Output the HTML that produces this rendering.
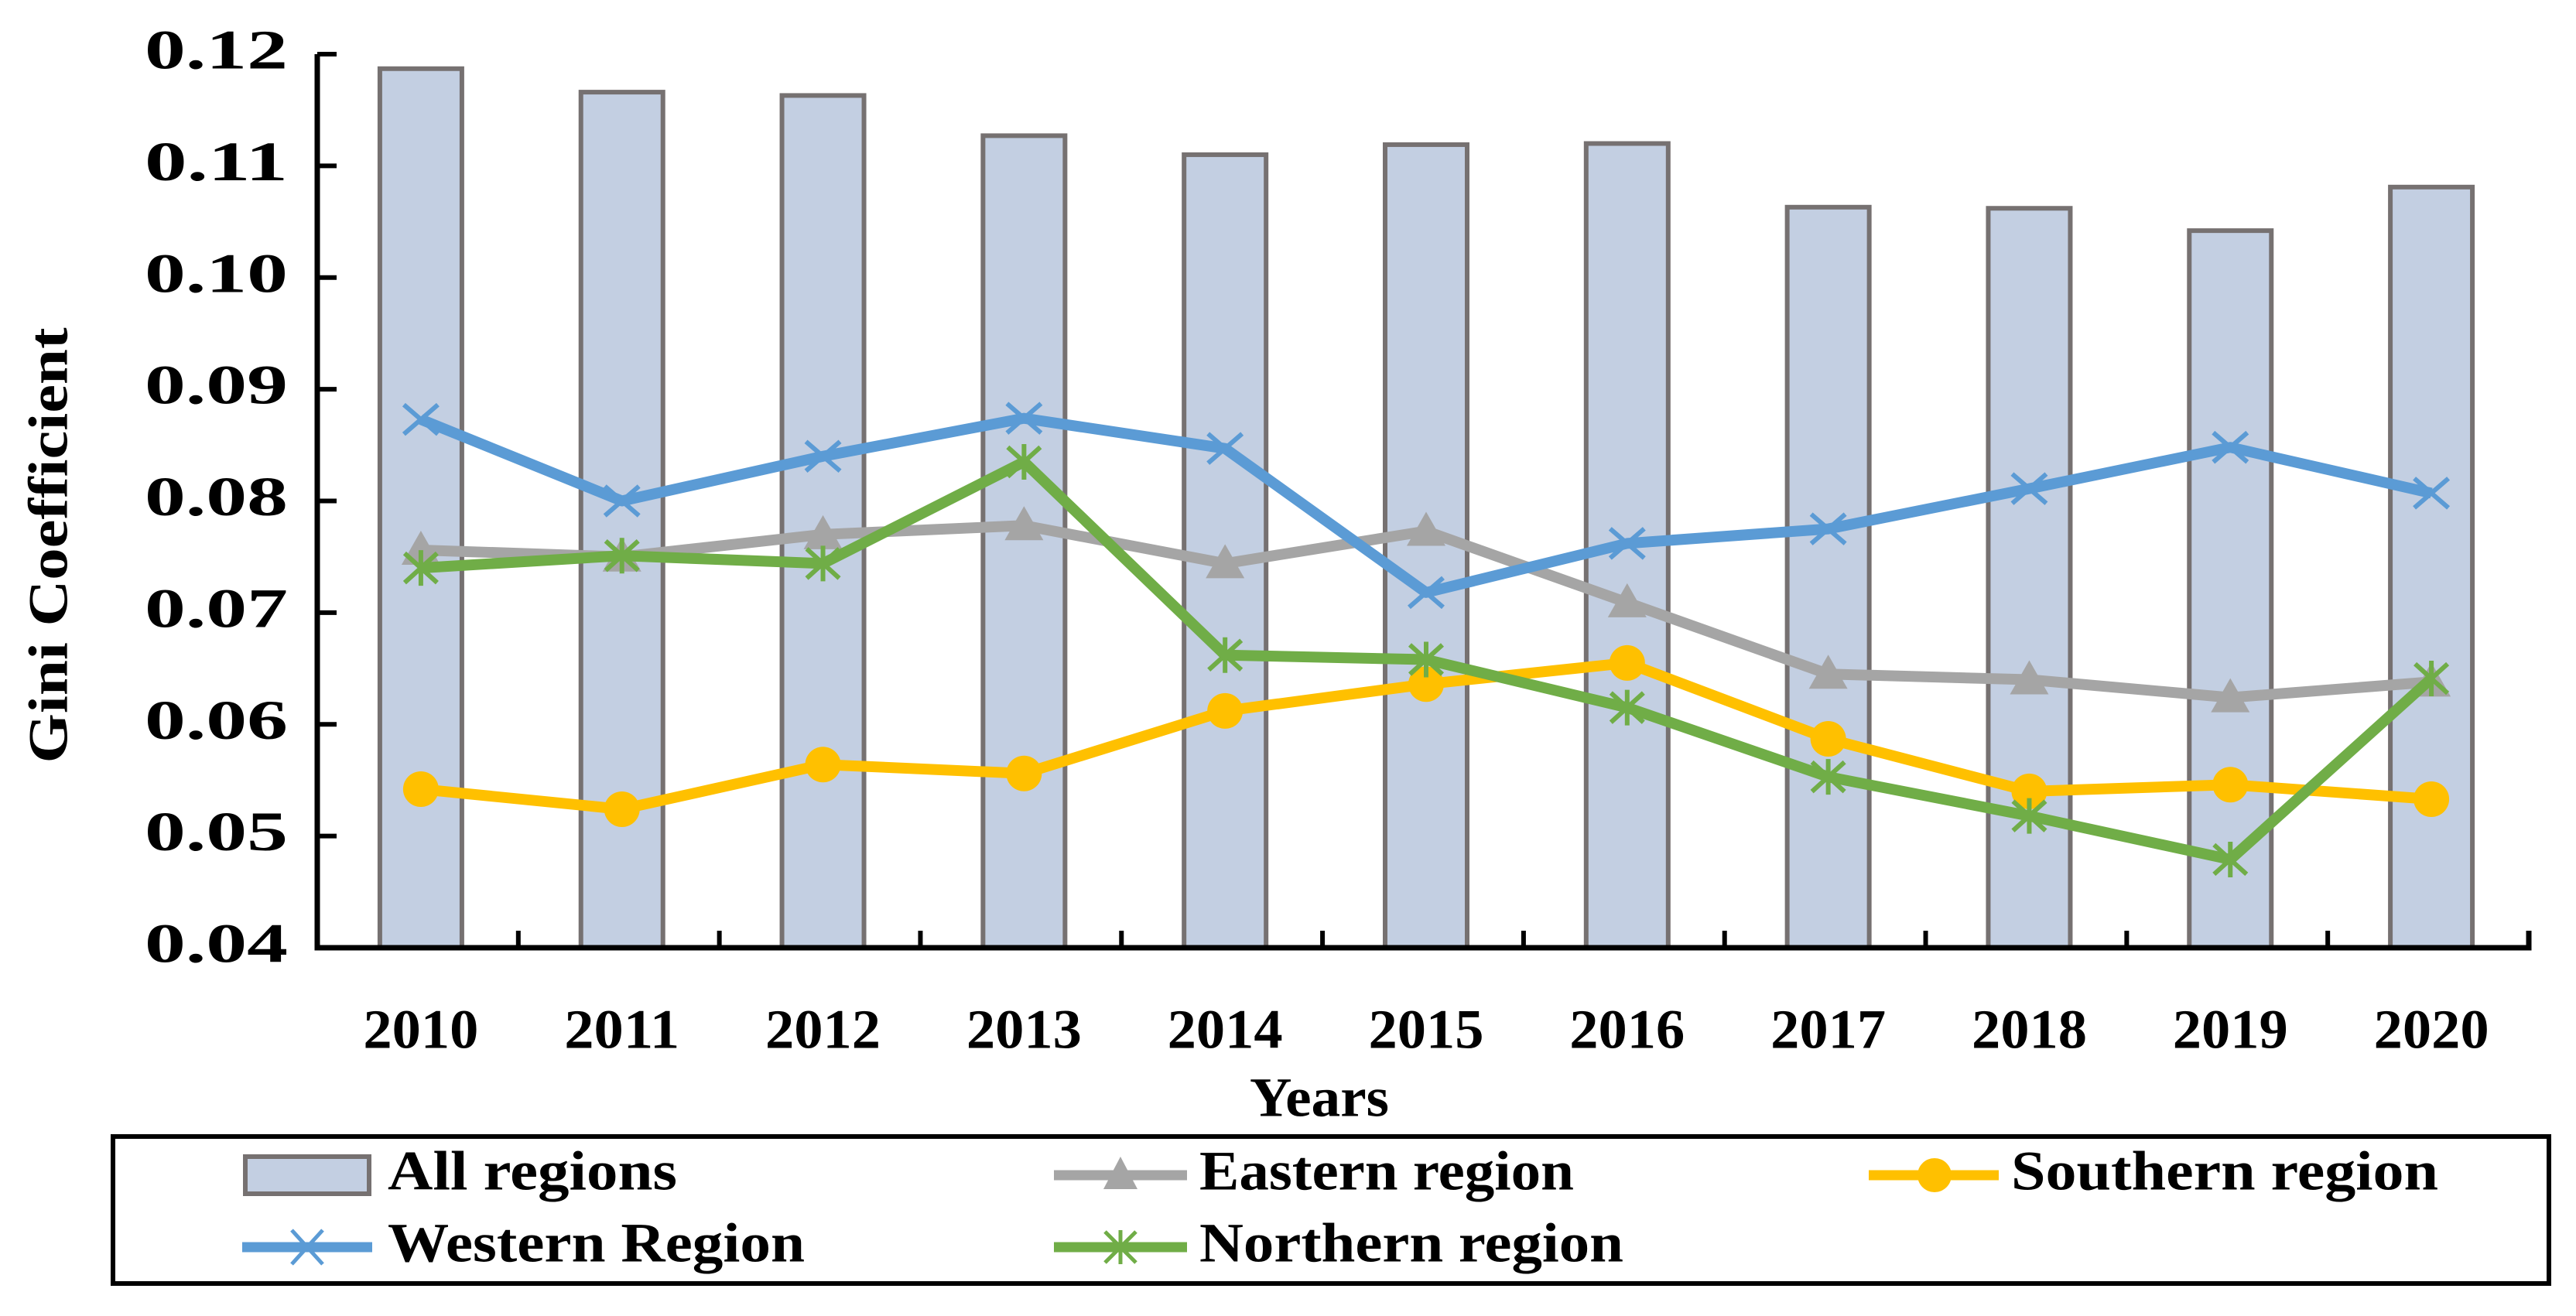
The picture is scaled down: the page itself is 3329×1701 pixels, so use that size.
<!DOCTYPE html>
<html><head><meta charset="utf-8"><style>
html,body{margin:0;padding:0;background:#fff}
svg{display:block}
text{font-family:"Liberation Serif",serif;font-weight:bold;fill:#000}
</style></head><body>
<svg id="chart" width="3329" height="1701" viewBox="0 0 3329 1701" xmlns="http://www.w3.org/2000/svg">
<g id="bars"></g>
<g id="lines"></g>
<g id="axes"></g>
<text x="70" y="705" font-size="72" text-anchor="middle" dominant-baseline="middle" textLength="563" lengthAdjust="spacingAndGlyphs" transform="rotate(-90 70 705)">Gini Coefficient</text>
<text x="1705" y="1426" font-size="72" text-anchor="middle" dominant-baseline="middle" textLength="180" lengthAdjust="spacingAndGlyphs">Years</text>
<g>
<rect x="146" y="1469" width="3148" height="190" fill="none" stroke="#000" stroke-width="6"/>
<g>
<rect x="317" y="1495" width="160" height="48" fill="#c3cfe2" stroke="#767171" stroke-width="6"/>
<text x="501" y="1521" font-size="72" dominant-baseline="middle" textLength="374" lengthAdjust="spacingAndGlyphs">All regions</text></g>
<g>
<line x1="1362" y1="1519" x2="1534" y2="1519" stroke="#a5a5a5" stroke-width="13"/>
<polygon points="1448,1495 1470,1537 1426,1537" fill="#a5a5a5"/>
<text x="1550" y="1521" font-size="72" dominant-baseline="middle" textLength="484" lengthAdjust="spacingAndGlyphs">Eastern region</text></g>
<g>
<line x1="2415" y1="1519" x2="2583" y2="1519" stroke="#ffc000" stroke-width="13"/>
<circle cx="2500" cy="1519" r="22" fill="#ffc000"/>
<text x="2599" y="1521" font-size="72" dominant-baseline="middle" textLength="552" lengthAdjust="spacingAndGlyphs">Southern region</text></g>
<g>
<line x1="313" y1="1612" x2="481" y2="1612" stroke="#5b9bd5" stroke-width="13"/>
<path d="M377,1590 L417,1634 M417,1590 L377,1634" stroke="#5b9bd5" stroke-width="5"/>
<text x="501" y="1614" font-size="72" dominant-baseline="middle" textLength="539" lengthAdjust="spacingAndGlyphs">Western Region</text></g>
<g>
<line x1="1362" y1="1612" x2="1534" y2="1612" stroke="#70ad47" stroke-width="13"/>
<path d="M1428,1592 L1468,1632 M1468,1592 L1428,1632 M1448,1590 L1448,1634" stroke="#70ad47" stroke-width="5"/>
<text x="1550" y="1614" font-size="72" dominant-baseline="middle" textLength="548" lengthAdjust="spacingAndGlyphs">Northern region</text></g>
</g>
</svg>
<script>
const years=["2010","2011","2012","2013","2014","2015","2016","2017","2018","2019","2020"];
const allRegions=[0.1187,0.1166,0.1163,0.1127,0.1110,0.1119,0.1120,0.1063,0.1062,0.1042,0.1081];
const western=[0.0873,0.0800,0.0840,0.0874,0.0847,0.0718,0.0762,0.0775,0.0811,0.0848,0.0807];
const eastern=[0.0756,0.0750,0.0770,0.0778,0.0744,0.0773,0.0709,0.0645,0.0640,0.0624,0.0638];
const southern=[0.0542,0.0524,0.0564,0.0556,0.0612,0.0636,0.0655,0.0587,0.0540,0.0546,0.0533];
const northern=[0.0740,0.0751,0.0744,0.0835,0.0662,0.0658,0.0615,0.0553,0.0518,0.0479,0.0641];
const yTicks=["0.04","0.05","0.06","0.07","0.08","0.09","0.10","0.11","0.12"];

const NS="http://www.w3.org/2000/svg";
const X0=410,X1=3268,Y0=1225,Y1=70,YMIN=0.04,YMAX=0.12;
const band=(X1-X0)/years.length;
const xC=i=>X0+4+band*(i+0.5);
const yS=v=>Y0-(v-YMIN)/(YMAX-YMIN)*(Y0-Y1);
function mk(tag,attrs,parent){const e=document.createElementNS(NS,tag);for(const k in attrs)e.setAttribute(k,attrs[k]);parent.appendChild(e);return e;}
const gB=document.getElementById('bars'),gL=document.getElementById('lines'),gA=document.getElementById('axes');
const bw=106;
allRegions.forEach((v,i)=>{
  const r=mk('rect',{x:xC(i)-bw/2,y:yS(v),width:bw,height:Y0-yS(v),fill:'#c3cfe2',stroke:'#767171','stroke-width':6},gB);
  
  
});
function series(vals,color,kind,name){
  const g=mk('g',{},gL);
  
  
  const pl=mk('polyline',{points:vals.map((v,i)=>xC(i)+','+yS(v)).join(' '),fill:'none',stroke:color,'stroke-width':14,'stroke-linejoin':'round'},g);
  
  
  vals.forEach((v,i)=>{
    const x=xC(i),y=yS(v);let m;
    if(kind==='tri')m=mk('polygon',{points:`${x},${y-25} ${x+25},${y+19} ${x-25},${y+19}`,fill:color},g);
    else if(kind==='circ')m=mk('circle',{cx:x,cy:y,r:23,fill:color},g);
    else if(kind==='x')m=mk('path',{d:`M${x-22},${y-19}L${x+22},${y+19}M${x+22},${y-19}L${x-22},${y+19}`,stroke:color,'stroke-width':6},g);
    else m=mk('path',{d:`M${x-21},${y-19}L${x+21},${y+19}M${x+21},${y-19}L${x-21},${y+19}M${x},${y-23}L${x},${y+23}`,stroke:color,'stroke-width':6},g);
    
    
  });
}
series(eastern,'#a5a5a5','tri','eastern');
series(southern,'#ffc000','circ','southern');
series(western,'#5b9bd5','x','western');
series(northern,'#70ad47','star','northern');
const ax=mk('path',{d:`M${X0},${Y1} L${X0},${Y0} L${X1},${Y0} L${X1},${Y0-22}`,fill:'none',stroke:'#000','stroke-width':7},gA);


yTicks.forEach(t=>{
  const y=yS(parseFloat(t));
  const l=mk('line',{x1:X0,y1:y,x2:X0+25,y2:y,stroke:'#000','stroke-width':6},gA);
  
  
  const tx=mk('text',{x:372,y:y+2,'font-size':72,'text-anchor':'end','dominant-baseline':'middle',textLength:185,lengthAdjust:'spacingAndGlyphs'},gA);
  tx.textContent=t;
  
  
});
years.forEach((yr,i)=>{
  if(i>0){const l=mk('line',{x1:X0+band*i,y1:Y0,x2:X0+band*i,y2:Y0-22,stroke:'#000','stroke-width':6},gA);
  
  }
  const tx=mk('text',{x:xC(i),y:1338,'font-size':72,'text-anchor':'middle','dominant-baseline':'middle',textLength:149,lengthAdjust:'spacingAndGlyphs'},gA);
  tx.textContent=yr;
  
  
});
</script>
</body></html>
